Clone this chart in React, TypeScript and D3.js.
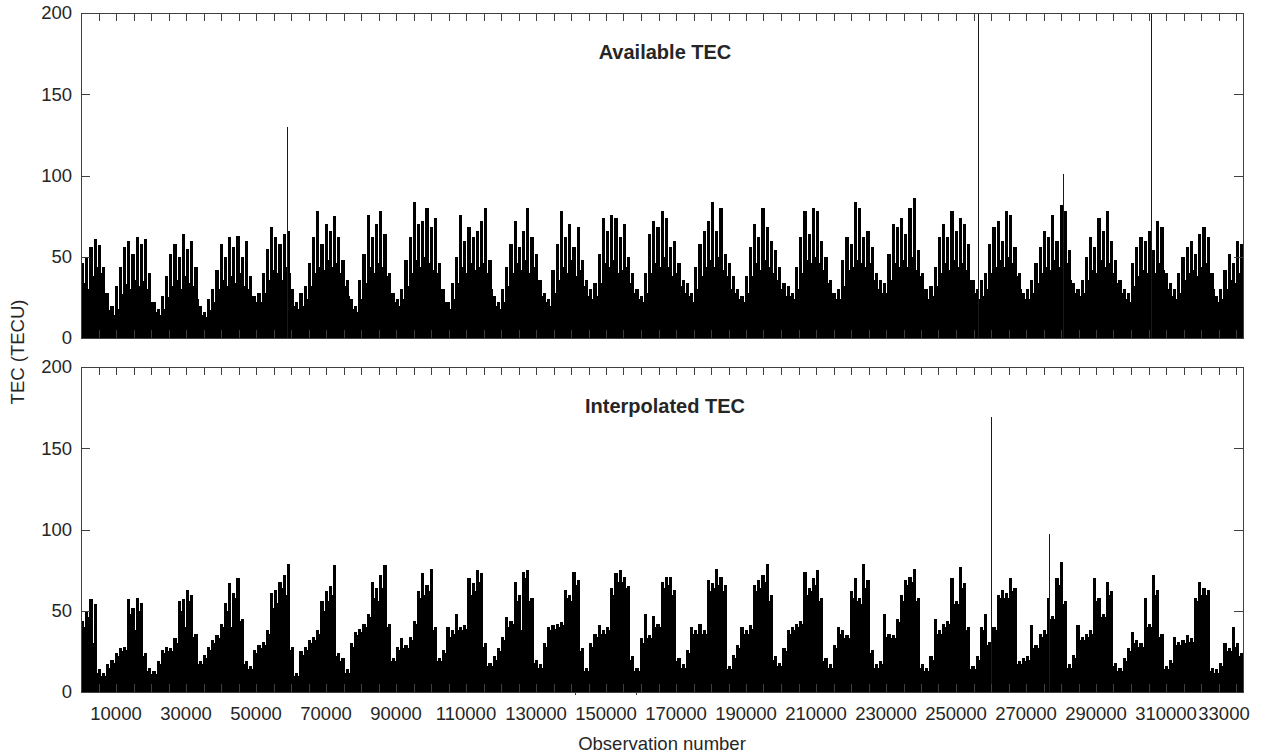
import { useEffect, useRef } from 'react';
import * as d3 from 'd3';

// each bar covers a bin of 1200 observations
const BIN = 1200;
const X_MAX = 332000;

// "Available TEC" panel: bin maximum and bin lower level (TECU)
const availPeak = [
  46, 50, 56, 61, 57, 44,
  28, 20, 32, 44, 56, 60, 52, 62, 58, 61, 40,
  22, 18, 26, 38, 52, 58, 50, 64, 55, 60, 44,
  20, 16, 24, 30, 42, 58, 50, 62, 56, 63, 50, 60, 38,
  26, 28, 40, 55, 68, 62, 58, 64, 66,
  30, 22, 28, 32, 46, 62, 78, 58, 70, 66, 75, 62, 48, 36,
  24, 20, 36, 52, 76, 62, 70, 78, 64, 40,
  28, 24, 30, 48, 62, 84, 70, 72, 80, 68, 74, 46,
  30, 22, 34, 50, 76, 60, 68, 62, 66, 72, 80, 48,
  26, 22, 30, 44, 58, 72, 56, 66, 80, 62, 52, 36,
  28, 24, 42, 58, 78, 62, 70, 56, 68, 48, 36,
  30, 34, 52, 74, 66, 76, 74, 62, 70, 50, 40,
  30, 26, 40, 64, 72, 68, 78, 74, 56, 60, 46, 36,
  34, 28, 44, 58, 66, 72, 84, 66, 80, 52, 46, 38,
  30, 26, 38, 56, 70, 62, 80, 68, 60, 54, 44, 34,
  32, 28, 44, 62, 78, 64, 80, 78, 60, 50, 36,
  28, 30, 48, 62, 58, 84, 80, 62, 66, 56, 40,
  36, 34, 52, 70, 68, 74, 64, 80, 86, 54, 40,
  30, 32, 44, 62, 70, 62, 78, 66, 74, 70, 58, 36,
  30, 36, 40, 58, 68, 72, 60, 78, 76, 56, 40,
  28, 30, 36, 46, 56, 66, 62, 76, 60, 82, 78, 54, 34,
  30, 36, 50, 62, 56, 74, 66, 78, 60, 48, 36,
  30, 28, 46, 56, 62, 60, 66, 54, 72, 68, 40,
  34, 30, 40, 50, 56, 60, 52, 64, 68, 62, 40,
  26, 30, 42, 52, 46, 60, 58,
];
const availBase = [
  34, 30, 38, 44, 40, 28,
  17, 14, 18, 27, 33, 30, 36, 32, 35, 30, 22,
  16, 14, 18, 25, 32, 36, 30, 38, 34, 32, 24,
  14, 13, 17, 22, 30, 36, 32, 38, 34, 40, 32, 30, 26,
  22, 22, 28, 36, 42, 40, 36, 44, 40,
  20, 18, 20, 24, 32, 40, 44, 42, 48, 44, 46, 40, 32, 26,
  18, 16, 24, 34, 44, 40, 46, 44, 38, 28,
  22, 20, 24, 32, 40, 48, 44, 50, 46, 42, 40, 30,
  22, 18, 24, 34, 44, 40, 46, 42, 44, 46, 40, 30,
  20, 18, 22, 32, 40, 46, 42, 48, 40, 44, 36, 26,
  22, 20, 28, 36, 44, 40, 48, 38, 42, 32, 26,
  24, 26, 34, 46, 44, 48, 40, 42, 44, 34, 28,
  24, 22, 28, 40, 46, 44, 50, 44, 38, 40, 32, 28,
  26, 22, 30, 38, 44, 48, 44, 50, 42, 38, 30, 28,
  24, 22, 28, 38, 46, 42, 48, 44, 40, 36, 30, 26,
  26, 24, 30, 40, 48, 46, 50, 46, 42, 34, 28,
  24, 24, 32, 42, 44, 48, 46, 44, 46, 36, 30,
  28, 28, 36, 46, 44, 48, 44, 50, 42, 38, 30,
  24, 26, 32, 40, 46, 42, 48, 44, 46, 42, 36, 28,
  24, 26, 30, 40, 44, 48, 44, 50, 46, 38, 30,
  24, 24, 28, 34, 40, 44, 42, 48, 44, 50, 46, 36, 28,
  26, 28, 36, 42, 40, 48, 44, 46, 40, 34, 28,
  24, 22, 32, 38, 42, 40, 44, 40, 46, 42, 30,
  26, 24, 28, 36, 40, 42, 38, 44, 46, 40, 30,
  22, 24, 30, 36, 34, 40, 36,
];
// single-observation outliers
const availSpikeObs = [58900, 256300, 280600, 305700];
const availSpikeVal = [130, 230, 101, 230];

// "Interpolated TEC" panel
const interpPeak = [
  44, 50, 57, 54, 14, 12, 17, 20, 24, 27,
  28, 57, 52, 58, 55, 24, 15, 13, 19, 26,
  28, 27, 33, 56, 57, 63, 60, 36, 19, 23,
  28, 32, 35, 42, 55, 67, 61, 70, 45, 19,
  16, 26, 29, 31, 38, 61, 63, 68, 72, 79,
  28, 12, 25, 28, 32, 34, 38, 56, 62, 65,
  78, 24, 21, 14, 30, 37, 39, 42, 48, 68,
  64, 72, 78, 42, 21, 28, 33, 29, 34, 44,
  62, 73, 66, 76, 40, 21, 26, 40, 38, 48,
  40, 41, 70, 67, 75, 73, 30, 18, 22, 27,
  34, 46, 44, 68, 60, 74, 75, 58, 20, 17,
  30, 40, 41, 42, 43, 63, 60, 74, 69, 27,
  15, 30, 36, 41, 38, 40, 64, 73, 75, 71,
  65, 22, 15, 33, 48, 35, 47, 42, 68, 71,
  71, 63, 21, 17, 26, 40, 38, 42, 38, 69,
  67, 76, 71, 66, 16, 23, 29, 40, 38, 41,
  66, 69, 72, 79, 60, 22, 18, 27, 38, 40,
  42, 44, 74, 64, 70, 75, 58, 21, 17, 29,
  40, 38, 35, 62, 70, 58, 79, 69, 26, 17,
  19, 48, 36, 35, 45, 60, 69, 71, 76, 58,
  17, 15, 22, 45, 38, 42, 44, 70, 56, 77,
  67, 40, 16, 22, 40, 48, 31, 40, 60, 63,
  61, 70, 64, 19, 21, 22, 41, 29, 36, 38,
  58, 47, 70, 80, 56, 17, 23, 41, 34, 36,
  38, 70, 58, 48, 68, 62, 18, 15, 21, 27,
  37, 32, 30, 58, 42, 72, 63, 36, 16, 20,
  34, 31, 32, 35, 33, 58, 68, 64, 63, 15,
  14, 18, 30, 27, 40, 30, 24,
];
const interpBase = [
  40, 46, 30, 12, 10, 10, 15, 18, 22, 25,
  26, 48, 38, 50, 22, 13, 11, 11, 17, 24,
  25, 25, 30, 50, 40, 56, 34, 17, 17, 21,
  26, 30, 33, 40, 50, 40, 58, 44, 17, 14,
  14, 24, 27, 29, 36, 52, 55, 64, 60, 26,
  10, 10, 23, 26, 30, 32, 36, 50, 56, 60,
  22, 19, 12, 12, 28, 35, 37, 40, 46, 58,
  56, 64, 40, 19, 19, 26, 27, 27, 32, 42,
  58, 60, 62, 38, 19, 19, 24, 34, 36, 38,
  38, 39, 60, 62, 68, 28, 16, 16, 20, 25,
  32, 40, 42, 56, 38, 70, 56, 18, 15, 15,
  28, 38, 39, 40, 41, 58, 56, 66, 25, 13,
  13, 28, 34, 36, 36, 38, 60, 68, 68, 64,
  20, 13, 13, 30, 33, 33, 40, 40, 64, 66,
  60, 19, 15, 15, 24, 36, 36, 36, 36, 62,
  64, 66, 62, 14, 14, 21, 27, 36, 36, 39,
  62, 64, 68, 56, 20, 16, 16, 25, 36, 38,
  40, 42, 60, 62, 66, 56, 19, 15, 15, 27,
  36, 33, 33, 58, 56, 54, 64, 24, 15, 15,
  17, 34, 33, 33, 43, 56, 66, 68, 56, 15,
  13, 13, 20, 36, 36, 40, 42, 54, 54, 64,
  38, 14, 14, 20, 38, 29, 29, 38, 58, 58,
  58, 62, 17, 17, 19, 20, 27, 27, 34, 36,
  45, 45, 66, 54, 15, 15, 21, 32, 32, 34,
  36, 56, 46, 46, 60, 16, 13, 13, 19, 25,
  30, 28, 28, 40, 40, 60, 34, 14, 14, 18,
  29, 29, 30, 31, 31, 56, 60, 60, 13, 12,
  12, 16, 25, 25, 28, 22, 22,
];
const interpSpikeObs = [260000, 276600];
const interpSpikeVal = [169, 97];

const yTicks = [0, 50, 100, 150, 200];
const xLabelValues = [10000, 30000, 50000, 70000, 90000, 110000, 130000, 150000, 170000,
  190000, 210000, 230000, 250000, 270000, 290000, 310000, 330000];
const xLabels = ['10000', '30000', '50000', '70000', '90000', '110000', '130000', '150000', '170000',
  '190000', '210000', '230000', '250000', '270000', '290000', '310000', '33000'];
const strayTicks = [141000, 158500];

const FONT = '"Liberation Sans", Arial, Helvetica, sans-serif';
const AXIS = '#404040';
const TEXT = '#262626';

const App = () => {
  const svgRef = useRef<SVGSVGElement>(null);

  useEffect(() => {
    const width = 1265;
    const height = 754;
    const left = 81;
    const right = 1243;

    const svg = d3.select(svgRef.current);
    svg.selectAll('*').remove();
    svg.attr('width', width).attr('height', height);

    const x = d3.scaleLinear().domain([0, X_MAX]).range([left, right]);
    const xr = (v: number) => Math.round(x(v));

    const panels = [
      { title: 'Available TEC', peak: availPeak, base: availBase,
        spikeObs: availSpikeObs, spikeVal: availSpikeVal, top: 13, bottom: 338 },
      { title: 'Interpolated TEC', peak: interpPeak, base: interpBase,
        spikeObs: interpSpikeObs, spikeVal: interpSpikeVal, top: 367, bottom: 692 },
    ];

    panels.forEach((p, k) => {
      const y = d3.scaleLinear().domain([0, 200]).range([p.bottom, p.top]);

      const clipId = `plot-clip-${k}`;
      svg.append('clipPath').attr('id', clipId).append('rect')
        .attr('x', left).attr('y', p.top)
        .attr('width', right - left).attr('height', p.bottom - p.top);

      const g = svg.append('g')
        .attr('clip-path', `url(#${clipId})`)
        .attr('shape-rendering', 'crispEdges');

      // lower level fills the full bin, so gaps between bars only open above it
      g.selectAll('rect.base').data(p.base).join('rect')
        .attr('class', 'base')
        .attr('x', (_, i) => xr(i * BIN))
        .attr('width', (_, i) => xr((i + 1) * BIN) - xr(i * BIN))
        .attr('y', d => Math.round(y(d)))
        .attr('height', d => Math.round(y(0)) - Math.round(y(d)))
        .attr('fill', '#000');

      g.selectAll('rect.peak').data(p.peak).join('rect')
        .attr('class', 'peak')
        .attr('x', (_, i) => xr(i * BIN))
        .attr('width', (_, i) => xr((i + 1) * BIN) - xr(i * BIN) - 1)
        .attr('y', d => Math.round(y(d)))
        .attr('height', d => Math.round(y(0)) - Math.round(y(d)))
        .attr('fill', '#000');

      // outliers as thin lines
      g.selectAll('line.spike').data(p.spikeObs).join('line')
        .attr('class', 'spike')
        .attr('x1', d => xr(d) + 0.5).attr('x2', d => xr(d) + 0.5)
        .attr('y1', y(0)).attr('y2', (_, i) => y(p.spikeVal[i]))
        .attr('stroke', '#1a1a1a').attr('stroke-width', 1);

      // axes box
      const ax = svg.append('g').attr('shape-rendering', 'crispEdges');
      ax.append('rect')
        .attr('x', left + 0.5).attr('y', p.top + 0.5)
        .attr('width', right - left).attr('height', p.bottom - p.top)
        .attr('fill', 'none').attr('stroke', AXIS).attr('stroke-width', 1);

      const minor = d3.range(5000, X_MAX, 5000);
      ax.selectAll('line.xt-top').data(minor).join('line')
        .attr('class', 'xt-top')
        .attr('x1', d => xr(d) + 0.5).attr('x2', d => xr(d) + 0.5)
        .attr('y1', p.top).attr('y2', p.top + 8)
        .attr('stroke', AXIS);
      ax.selectAll('line.xt-bot').data(minor).join('line')
        .attr('class', 'xt-bot')
        .attr('x1', d => xr(d) + 0.5).attr('x2', d => xr(d) + 0.5)
        .attr('y1', p.bottom).attr('y2', p.bottom - 8)
        .attr('stroke', AXIS);

      ax.selectAll('line.yt-l').data(yTicks).join('line')
        .attr('class', 'yt-l')
        .attr('x1', left).attr('x2', left + 9)
        .attr('y1', d => Math.round(y(d)) + 0.5).attr('y2', d => Math.round(y(d)) + 0.5)
        .attr('stroke', AXIS);
      ax.selectAll('line.yt-r').data(yTicks).join('line')
        .attr('class', 'yt-r')
        .attr('x1', right).attr('x2', right - 9)
        .attr('y1', d => Math.round(y(d)) + 0.5).attr('y2', d => Math.round(y(d)) + 0.5)
        .attr('stroke', AXIS);

      // y tick labels
      svg.append('g').selectAll('text').data(yTicks).join('text')
        .attr('x', left - 9)
        .attr('y', d => y(d))
        .attr('dy', '0.35em')
        .attr('text-anchor', 'end')
        .attr('font-family', FONT)
        .attr('font-size', 18.5)
        .attr('fill', TEXT)
        .text(d => d);

      // panel title
      svg.append('text')
        .attr('x', (left + right) / 2 + 3)
        .attr('y', p.top + 46)
        .attr('text-anchor', 'middle')
        .attr('font-family', FONT)
        .attr('font-weight', 'bold')
        .attr('font-size', 20)
        .attr('fill', TEXT)
        .text(p.title);
    });

    // odd outward marks under the lower axis
    svg.append('g').selectAll('line').data(strayTicks).join('line')
      .attr('x1', d => xr(d) + 0.5).attr('x2', d => xr(d) + 0.5)
      .attr('y1', 692).attr('y2', 695)
      .attr('stroke', AXIS);

    // x tick labels; the last one is truncated in the source, so it sits a bit left
    const last = xLabelValues.length - 1;
    svg.append('g')
      .selectAll('text').data(xLabelValues).join('text')
      .attr('x', d => x(d))
      .attr('dx', (_, i) => (i === last ? -12 : 0))
      .attr('y', 720)
      .attr('text-anchor', 'middle')
      .attr('font-family', FONT)
      .attr('font-size', 18.5)
      .attr('fill', TEXT)
      .text((_, i) => xLabels[i]);

    // axis labels
    svg.append('text')
      .attr('x', (left + right) / 2)
      .attr('y', 750)
      .attr('text-anchor', 'middle')
      .attr('font-family', FONT)
      .attr('font-size', 18.5)
      .attr('fill', TEXT)
      .text('Observation number');

    svg.append('text')
      .attr('transform', 'translate(24, 352) rotate(-90)')
      .attr('text-anchor', 'middle')
      .attr('font-family', FONT)
      .attr('font-size', 18.5)
      .attr('fill', TEXT)
      .text('TEC (TECU)');
  }, []);

  return (
    <svg ref={svgRef} style={{ position: 'absolute', left: 0, top: 0, background: '#fff' }}></svg>
  );
};

export default App;
